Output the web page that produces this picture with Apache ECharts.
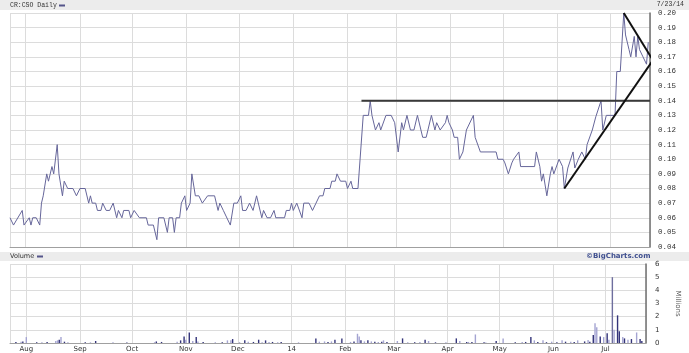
<!DOCTYPE html>
<html>
<head>
<meta charset="utf-8">
<script src="https://cdn.jsdelivr.net/npm/echarts@6/dist/echarts.min.js"></script>
<style>html,body{margin:0;padding:0;background:#fff}#c{width:689px;height:353px}</style>
</head>
<body>
<div id="c"></div>
<script>
// ---------- DATA ----------
const priceDates = ['2013-07-23','2013-07-25','2013-07-26','2013-07-30','2013-07-31','2013-08-01','2013-08-03','2013-08-04','2013-08-05','2013-08-07','2013-08-09','2013-08-10','2013-08-11','2013-08-13','2013-08-14','2013-08-16','2013-08-17','2013-08-19','2013-08-20','2013-08-22','2013-08-23','2013-08-25','2013-08-28','2013-08-30','2013-09-01','2013-09-04','2013-09-06','2013-09-07','2013-09-08','2013-09-10','2013-09-11','2013-09-13','2013-09-14','2013-09-16','2013-09-18','2013-09-20','2013-09-22','2013-09-23','2013-09-25','2013-09-26','2013-09-29','2013-09-30','2013-10-02','2013-10-03','2013-10-05','2013-10-09','2013-10-10','2013-10-13','2013-10-15','2013-10-16','2013-10-19','2013-10-21','2013-10-22','2013-10-24','2013-10-25','2013-10-26','2013-10-28','2013-10-29','2013-10-31','2013-11-01','2013-11-03','2013-11-04','2013-11-06','2013-11-08','2013-11-10','2013-11-11','2013-11-13','2013-11-17','2013-11-19','2013-11-20','2013-11-22','2013-11-23','2013-11-26','2013-11-28','2013-11-30','2013-12-02','2013-12-03','2013-12-05','2013-12-07','2013-12-09','2013-12-11','2013-12-12','2013-12-14','2013-12-15','2013-12-17','2013-12-19','2013-12-21','2013-12-22','2013-12-27','2013-12-28','2013-12-30','2013-12-31','2014-01-01','2014-01-03','2014-01-06','2014-01-07','2014-01-10','2014-01-12','2014-01-14','2014-01-15','2014-01-16','2014-01-18','2014-01-19','2014-01-22','2014-01-23','2014-01-25','2014-01-26','2014-01-28','2014-01-31','2014-02-01','2014-02-03','2014-02-04','2014-02-07','2014-02-10','2014-02-13','2014-02-14','2014-02-15','2014-02-17','2014-02-19','2014-02-20','2014-02-23','2014-02-26','2014-02-28','2014-03-02','2014-03-04','2014-03-05','2014-03-07','2014-03-09','2014-03-11','2014-03-13','2014-03-14','2014-03-16','2014-03-18','2014-03-19','2014-03-20','2014-03-21','2014-03-23','2014-03-24','2014-03-26','2014-03-27','2014-03-29','2014-03-30','2014-03-31','2014-04-02','2014-04-03','2014-04-05','2014-04-06','2014-04-08','2014-04-10','2014-04-11','2014-04-14','2014-04-15','2014-04-16','2014-04-18','2014-04-27','2014-04-28','2014-05-01','2014-05-02','2014-05-04','2014-05-06','2014-05-07','2014-05-08','2014-05-10','2014-05-11','2014-05-19','2014-05-20','2014-05-22','2014-05-23','2014-05-24','2014-05-26','2014-05-28','2014-05-29','2014-05-30','2014-06-02','2014-06-04','2014-06-05','2014-06-07','2014-06-08','2014-06-10','2014-06-11','2014-06-13','2014-06-14','2014-06-15','2014-06-17','2014-06-18','2014-06-21','2014-06-23','2014-06-26','2014-06-27','2014-06-29','2014-07-04','2014-07-05','2014-07-07','2014-07-09','2014-07-10','2014-07-12','2014-07-13','2014-07-15','2014-07-16','2014-07-17','2014-07-18','2014-07-20','2014-07-21','2014-07-22','2014-07-23'];
const priceValues = [0.060,0.055,0.055,0.065,0.055,0.055,0.060,0.055,0.060,0.060,0.055,0.070,0.075,0.090,0.085,0.095,0.090,0.110,0.090,0.075,0.085,0.080,0.080,0.075,0.080,0.080,0.070,0.075,0.070,0.070,0.065,0.065,0.070,0.065,0.065,0.070,0.060,0.065,0.060,0.065,0.065,0.060,0.065,0.065,0.060,0.060,0.055,0.055,0.045,0.060,0.060,0.050,0.060,0.060,0.050,0.060,0.060,0.070,0.075,0.065,0.070,0.090,0.075,0.075,0.070,0.070,0.075,0.075,0.065,0.070,0.065,0.065,0.055,0.070,0.070,0.075,0.065,0.065,0.070,0.065,0.075,0.075,0.060,0.065,0.060,0.060,0.065,0.060,0.060,0.065,0.065,0.070,0.065,0.070,0.060,0.070,0.070,0.065,0.070,0.070,0.075,0.075,0.080,0.080,0.085,0.085,0.090,0.085,0.085,0.080,0.085,0.080,0.080,0.130,0.130,0.140,0.130,0.120,0.125,0.120,0.130,0.130,0.125,0.105,0.125,0.120,0.130,0.120,0.120,0.130,0.130,0.115,0.115,0.120,0.120,0.130,0.120,0.125,0.120,0.120,0.125,0.130,0.125,0.120,0.115,0.115,0.100,0.105,0.120,0.120,0.130,0.115,0.115,0.105,0.105,0.100,0.100,0.0975,0.090,0.0975,0.100,0.100,0.105,0.095,0.095,0.105,0.095,0.085,0.090,0.075,0.090,0.095,0.090,0.100,0.095,0.080,0.094,0.094,0.105,0.094,0.100,0.100,0.105,0.100,0.110,0.120,0.129,0.140,0.120,0.130,0.130,0.160,0.160,0.200,0.185,0.175,0.170,0.184,0.170,0.184,0.175,0.170,0.170,0.165,0.180];

// trend lines drawn on the chart (start/end date and price)
const resistDates = ['2014-02-09','2014-07-24'];
const resistValues = [0.14, 0.14];
const downDates = ['2014-07-09','2014-07-25'];
const downValues = [0.200, 0.169];
const upDates = ['2014-06-05','2014-07-27'];
const upValues = [0.080, 0.170];

// volume (millions); dir: 1 = dark bar, 0 = light bar
const volDates = ['2013-07-26','2013-07-29','2013-07-30','2013-08-01','2013-08-07','2013-08-10','2013-08-13','2013-08-18','2013-08-19','2013-08-20','2013-08-21','2013-08-23','2013-08-25','2013-09-04','2013-09-07','2013-09-10','2013-09-20','2013-09-28','2013-10-14','2013-10-15','2013-10-18','2013-10-27','2013-10-29','2013-10-31','2013-11-01','2013-11-03','2013-11-05','2013-11-07','2013-11-08','2013-11-11','2013-11-18','2013-11-22','2013-11-25','2013-11-27','2013-11-28','2013-12-02','2013-12-05','2013-12-07','2013-12-10','2013-12-13','2013-12-15','2013-12-17','2013-12-19','2013-12-21','2013-12-24','2013-12-26','2014-01-05','2014-01-15','2014-01-17','2014-01-20','2014-01-22','2014-01-24','2014-01-26','2014-01-30','2014-02-04','2014-02-06','2014-02-08','2014-02-09','2014-02-10','2014-02-12','2014-02-14','2014-02-16','2014-02-18','2014-02-20','2014-02-22','2014-02-23','2014-02-25','2014-03-03','2014-03-06','2014-03-09','2014-03-13','2014-03-16','2014-03-19','2014-03-21','2014-03-25','2014-03-31','2014-04-06','2014-04-08','2014-04-12','2014-04-13','2014-04-15','2014-04-17','2014-04-22','2014-04-23','2014-04-29','2014-05-03','2014-05-10','2014-05-14','2014-05-16','2014-05-19','2014-05-21','2014-05-23','2014-05-26','2014-05-28','2014-05-31','2014-06-03','2014-06-06','2014-06-08','2014-06-11','2014-06-13','2014-06-15','2014-06-19','2014-06-21','2014-06-22','2014-06-24','2014-06-25','2014-06-26','2014-06-28','2014-06-30','2014-07-02','2014-07-03','2014-07-05','2014-07-06','2014-07-08','2014-07-09','2014-07-11','2014-07-12','2014-07-14','2014-07-16','2014-07-19','2014-07-21','2014-07-22'];
const volValues = [0.08,0.10,0.12,0.45,0.06,0.06,0.08,0.15,0.20,0.25,0.45,0.10,0.06,0.06,0.05,0.15,0.05,0.04,0.06,0.12,0.08,0.10,0.20,0.50,0.25,0.80,0.15,0.45,0.12,0.08,0.05,0.06,0.20,0.20,0.30,0.06,0.20,0.10,0.08,0.25,0.06,0.20,0.08,0.08,0.06,0.08,0.05,0.35,0.10,0.12,0.08,0.12,0.25,0.35,0.08,0.12,0.70,0.50,0.20,0.12,0.20,0.12,0.10,0.08,0.10,0.20,0.08,0.15,0.35,0.06,0.06,0.08,0.25,0.15,0.05,0.05,0.35,0.15,0.08,0.08,0.08,0.65,0.05,0.04,0.15,0.35,0.05,0.08,0.08,0.45,0.20,0.08,0.20,0.06,0.10,0.06,0.20,0.10,0.10,0.08,0.20,0.12,0.22,0.10,0.60,1.50,1.20,0.50,0.45,0.75,0.25,5.00,1.00,2.10,0.90,0.45,0.35,0.25,0.30,0.80,0.30,0.15];
const volDir = [1,0,1,0,1,0,1,0,0,1,0,1,0,1,0,1,0,1,0,1,1,0,1,1,0,1,0,1,0,1,0,1,0,0,1,0,1,0,1,1,0,1,0,1,0,1,0,1,0,0,1,0,1,1,0,1,0,0,1,0,1,0,1,0,1,0,1,0,1,0,1,0,1,0,1,0,1,0,1,0,1,0,1,0,1,0,1,0,1,1,0,1,0,1,0,1,0,1,0,1,0,1,0,1,1,0,0,1,0,1,0,2,0,1,1,0,1,0,1,0,1,1];

const priceTicks = [0.04,0.20,0.01];  // min, max, step
const volTicks = [0,6,1];
const monthNames = ['Jan','Feb','Mar','Apr','May','Jun','Jul','Aug','Sep','Oct','Nov','Dec'];
const axisStart = '2013-07-23T00:00:00';
const axisEnd = '2014-07-24T00:00:00';
const lastDateLabel = '7/23/14';

// ---------- CHART ----------
const chart = echarts.init(document.getElementById('c'), null, {renderer: 'canvas'});
const zip = (a, b) => a.map((d, i) => [d, b[i]]);
const DAY = 86400000;
const tMin = +new Date(axisStart), tMax = +new Date(axisEnd);
const gridCol = '#dcdcdc';
const lineCol = '#66669a';

function xAxisFor(idx, showLabels) {
  return {
    type: 'time', gridIndex: idx, min: tMin, max: tMax,
    minInterval: 28 * DAY, maxInterval: 31 * DAY,
    axisLine: {show: true, onZero: false, lineStyle: {color: '#a0a0a0', width: 1}},
    axisTick: {show: false},
    splitLine: {show: true, lineStyle: {color: gridCol, width: 1}},
    axisLabel: {
      show: showLabels, showMinLabel: false, showMaxLabel: false,
      fontFamily: 'DejaVu Sans', fontSize: 7, color: '#333', margin: 3,
      formatter: function (v) {
        const d = new Date(v);
        return d.getMonth() === 0 ? String(d.getFullYear()).slice(2) : monthNames[d.getMonth()];
      }
    }
  };
}

const option = {
  animation: false,
  backgroundColor: '#ffffff',
  grid: [
    {left: 10, right: 39, top: 13, height: 234},
    {left: 10, right: 39, top: 264, height: 79.5}
  ],
  xAxis: [xAxisFor(0, false), xAxisFor(1, true)],
  yAxis: [
    {
      type: 'value', gridIndex: 0, position: 'right',
      min: priceTicks[0], max: priceTicks[1], interval: priceTicks[2],
      axisLine: {show: true, lineStyle: {color: '#707070', width: 1.5}},
      axisTick: {show: false},
      splitLine: {show: true, lineStyle: {color: gridCol, width: 1}},
      axisLabel: {fontFamily: 'Liberation Mono', fontSize: 7.5, color: '#333', margin: 8,
        formatter: v => v.toFixed(2)}
    },
    {
      type: 'value', gridIndex: 1, position: 'right',
      min: volTicks[0], max: volTicks[1], interval: volTicks[2],
      axisLine: {show: true, lineStyle: {color: '#707070', width: 1.5}},
      axisTick: {show: false},
      splitLine: {show: true, lineStyle: {color: gridCol, width: 1}},
      axisLabel: {fontFamily: 'DejaVu Sans', fontSize: 7, color: '#333', margin: 9},
      name: 'Millions', nameLocation: 'middle', nameRotate: -90, nameGap: 28,
      nameTextStyle: {fontFamily: 'DejaVu Sans', fontSize: 7, color: '#555'}
    }
  ],
  series: [
    {
      type: 'line', xAxisIndex: 0, yAxisIndex: 0, data: zip(priceDates, priceValues),
      symbol: 'none', lineStyle: {color: lineCol, width: 1}, z: 3
    },
    {
      type: 'line', xAxisIndex: 0, yAxisIndex: 0, data: zip(resistDates, resistValues),
      symbol: 'none', clip: false, lineStyle: {color: '#3a3a3a', width: 2}, z: 4
    },
    {
      type: 'line', xAxisIndex: 0, yAxisIndex: 0, data: zip(downDates, downValues),
      symbol: 'none', clip: false, lineStyle: {color: '#111', width: 2}, z: 4
    },
    {
      type: 'line', xAxisIndex: 0, yAxisIndex: 0, data: zip(upDates, upValues),
      symbol: 'none', clip: false, lineStyle: {color: '#111', width: 2}, z: 4
    },
    {
      type: 'bar', xAxisIndex: 1, yAxisIndex: 1, data: zip(volDates, volValues),
      barWidth: 1.4, barGap: '0%',
      itemStyle: {color: p => volDir[p.dataIndex] === 1 ? '#34347a' : (volDir[p.dataIndex] === 2 ? '#6e6e9e' : '#a4a4d2')}
    }
  ],
  graphic: [
    {type: 'rect', shape: {x: 0, y: 0, width: 689, height: 10}, style: {fill: '#ececec'}, silent: true, z: -1},
    {type: 'rect', shape: {x: 0, y: 252, width: 689, height: 9}, style: {fill: '#ececec'}, silent: true, z: -1},
    {type: 'text', left: 10, top: 2, style: {text: 'CR:CSO Daily', font: '6.5px "Liberation Mono"', fill: '#333'}},
    {type: 'line', shape: {x1: 59, y1: 5.5, x2: 65, y2: 5.5}, style: {stroke: '#55558a', lineWidth: 2}},
    {type: 'text', right: 5, top: 1, style: {text: lastDateLabel, font: '6.5px "Liberation Mono"', fill: '#333'}},
    {type: 'text', left: 10, top: 253, style: {text: 'Volume', font: '6.5px "DejaVu Sans"', fill: '#333'}},
    {type: 'line', shape: {x1: 37, y1: 256.5, x2: 43, y2: 256.5}, style: {stroke: '#55558a', lineWidth: 2}},
    {type: 'text', left: 586, top: 253, style: {text: '©BigCharts.com', font: 'bold 7px "DejaVu Sans"', fill: '#3f4f8f'}}
  ]
};
chart.setOption(option);
</script>
</body>
</html>
